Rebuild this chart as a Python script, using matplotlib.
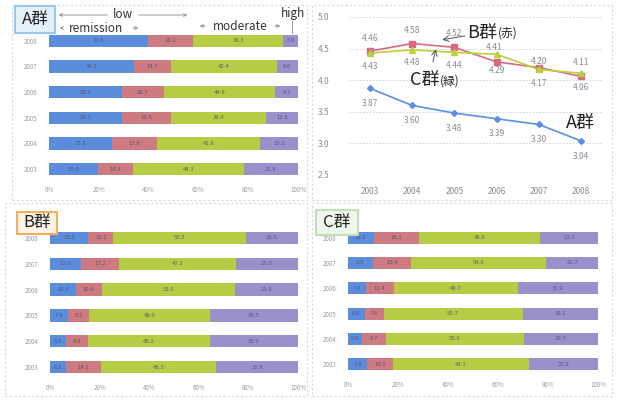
import matplotlib.pyplot as plt
from matplotlib.patches import FancyBboxPatch, Rectangle, FancyArrowPatch

plt.rcParams['font.family'] = ['Noto Sans CJK JP', 'DejaVu Sans']

# 年次（上から2008→2003）
years = ['2008', '2007', '2006', '2005', '2004', '2003']

# 疾患活動性の割合 (%)：remission / low / moderate / high
a_remission = [39.6, 34.3, 29.3, 29.3, 25.5, 19.6]
a_low = [18.2, 14.7, 16.7, 19.5, 17.8, 14.3]
a_moderate = [36.3, 42.4, 44.8, 38.4, 41.6, 44.3]
a_high = [5.9, 8.6, 9.2, 12.8, 15.1, 21.8]

b_remission = [15.5, 12.6, 10.3, 7.4, 6.5, 6.5]
b_low = [10.1, 15.2, 10.6, 8.2, 8.8, 14.1]
b_moderate = [53.5, 47.2, 53.5, 48.9, 49.2, 46.5]
b_high = [20.9, 25.0, 25.6, 35.5, 35.5, 32.9]

c_remission = [10.2, 9.9, 7.0, 6.6, 5.6, 7.6]
c_low = [18.1, 15.4, 11.4, 7.6, 9.7, 10.5]
c_moderate = [48.6, 54.0, 49.7, 55.7, 55.0, 54.1]
c_high = [23.1, 20.7, 31.9, 30.1, 29.7, 27.8]

# 平均スコアの推移
line_years = ['2003', '2004', '2005', '2006', '2007', '2008']
score_a = [3.87, 3.60, 3.48, 3.39, 3.30, 3.04]
score_b = [4.46, 4.58, 4.52, 4.29, 4.20, 4.06]
score_c = [4.43, 4.48, 4.44, 4.41, 4.17, 4.11]

colors = ['#5b8ddc', '#cd7a80', '#b7cc45', '#9a90cc']
W, H = 620, 401

fig = plt.figure(figsize=(6.2, 4.01), dpi=100)


def px_axes(x0, y0, x1, y1):
    return fig.add_axes([x0 / W, 1 - y1 / H, (x1 - x0) / W, (y1 - y0) / H])


def fx(x):
    return x / W


def fy(y):
    return 1 - y / H


def frame(x0, y0, x1, y1):
    fig.patches.append(Rectangle((fx(x0), fy(y1)), (x1 - x0) / W, (y1 - y0) / H,
                                 transform=fig.transFigure, fill=False,
                                 ec='#d8d8e0', lw=0.8, ls=(0, (2, 2))))


def stacked(ax, series):
    left = [0] * len(years)
    pos = list(range(len(years)))
    for vals, col in zip(series, colors):
        ax.barh(pos, vals, left=left, height=0.48, color=col)
        for p, l, v in zip(pos, left, vals):
            ax.text(l + v / 2, p, f'{v:.1f}', ha='center', va='center',
                    fontsize=4.3, color='#4a4a6a', alpha=0.8)
        left = [l + v for l, v in zip(left, vals)]
    ax.set_xlim(0, 100)
    ax.set_ylim(5.5, -0.5)
    ax.set_yticks(pos)
    ax.set_yticklabels(years)
    ax.set_xticks([0, 20, 40, 60, 80, 100])
    ax.set_xticklabels(['0%', '20%', '40%', '60%', '80%', '100%'])
    ax.tick_params(length=0, labelsize=4.5, labelcolor='#9a9aa8')
    ax.tick_params(axis='y', pad=8)
    ax.tick_params(axis='x', pad=3)
    for s in ax.spines.values():
        s.set_visible(False)


def tag(x0, y0, x1, y1, text, ec, fc):
    fig.patches.append(FancyBboxPatch((fx(x0), fy(y1)), (x1 - x0) / W, (y1 - y0) / H,
                                      boxstyle='square,pad=0', transform=fig.transFigure,
                                      ec=ec, fc=fc, lw=1.5))
    fig.text(fx((x0 + x1) / 2), fy((y0 + y1) / 2), text, ha='center', va='center',
             fontsize=12, color='#222222')


def arrow(x0, x1, y):
    fig.patches.append(FancyArrowPatch((fx(x0), fy(y)), (fx(x1), fy(y)),
                                       transform=fig.transFigure, arrowstyle='->',
                                       mutation_scale=5, color='#888888', lw=0.6))


# 枠線
frame(12, 5, 307, 200)
frame(312, 5, 612, 200)
frame(5, 203, 307, 396)
frame(312, 203, 612, 396)

# A群
ax_a = px_axes(49, 28, 298, 182)
stacked(ax_a, [a_remission, a_low, a_moderate, a_high])
tag(15, 6, 55, 33, 'A群', '#9cc8ea', '#e4f1fb')

words = dict(ha='center', va='center', fontsize=8.5, color='#333333')
fig.text(fx(123), fy(15), 'low', **words)
fig.text(fx(96), fy(28), 'remission', **words)
fig.text(fx(240), fy(26), 'moderate', **words)
fig.text(fx(293), fy(14), 'high', **words)
arrow(110, 56, 15)
arrow(136, 190, 15)
arrow(65, 57, 28)
arrow(130, 141, 28)
arrow(208, 197, 26)
arrow(272, 283, 26)
fig.lines.append(plt.Line2D([fx(292), fx(292)], [fy(21), fy(33)],
                            transform=fig.transFigure, color='#888888', lw=0.6))

# B群
ax_b = px_axes(50, 225, 298, 380)
stacked(ax_b, [b_remission, b_low, b_moderate, b_high])
tag(17, 212, 57, 234, 'B群', '#f0b060', '#fdf3e4')

# C群
ax_c = px_axes(348, 225, 598, 377)
stacked(ax_c, [c_remission, c_low, c_moderate, c_high])
tag(316, 210, 358, 235, 'C群', '#bfe0b8', '#eef7ec')

# 平均スコア折れ線
ax_l = px_axes(349, 17, 602, 175)
xs = list(range(len(line_years)))
ax_l.plot(xs, score_a, color='#5b8ee6', marker='D', ms=3, lw=1.2)
ax_l.plot(xs, score_b, color='#da6a82', marker='s', ms=4, lw=1.2)
ax_l.plot(xs, score_c, color='#bccf3c', marker='^', ms=4, lw=1.2)
ax_l.set_xlim(-0.5, 5.5)
ax_l.set_ylim(2.5, 5.0)
ax_l.set_yticks([2.5, 3.0, 3.5, 4.0, 4.5, 5.0])
ax_l.set_xticks(xs)
ax_l.set_xticklabels(line_years)
ax_l.tick_params(length=0, labelsize=6, labelcolor='#8a8a9a')
ax_l.tick_params(axis='y', pad=14)
ax_l.tick_params(axis='x', pad=9)
ax_l.grid(axis='y', color='#cfcfd8', ls=(0, (2, 2)), lw=0.6)
for s in ax_l.spines.values():
    s.set_visible(False)

lab = dict(fontsize=6, color='#8a8a9a', ha='center', va='center')
for x, v in zip(xs, score_a):
    ax_l.text(x, v - 0.24, f'{v:.2f}', **lab)
b_off = [0.2, 0.21, 0.22, -0.13, 0.1, -0.17]
c_off = [-0.22, -0.2, -0.21, 0.1, -0.22, 0.17]
for x, v, o in zip(xs, score_b, b_off):
    ax_l.text(x, v + o, f'{v:.2f}', **lab)
for x, v, o in zip(xs, score_c, c_off):
    ax_l.text(x - (0.05 if x == 3 else 0), v + o, f'{v:.2f}', **lab)

# 系列名の注記
big = dict(fontsize=13, color='#222222', va='center', ha='left')
small = dict(fontsize=8.5, color='#222222', va='center', ha='left')
pointer = dict(arrowstyle='->', color='#555555', lw=0.7, shrinkA=0, shrinkB=0)
ax_l.text(2.3, 4.75, 'B群', **big)
ax_l.text(3.02, 4.74, '(赤)', **small)
ax_l.annotate('', xy=(1.71, 4.64), xytext=(2.25, 4.70), arrowprops=pointer)
ax_l.text(0.95, 4.0, 'C群', **big)
ax_l.text(1.66, 3.99, '(緑)', **small)
ax_l.annotate('', xy=(1.56, 4.49), xytext=(1.49, 4.29), arrowprops=pointer)
ax_l.text(4.98, 3.32, 'A群', fontsize=13, color='#222222', va='center', ha='center')

fig.savefig('out.png', dpi=100)
